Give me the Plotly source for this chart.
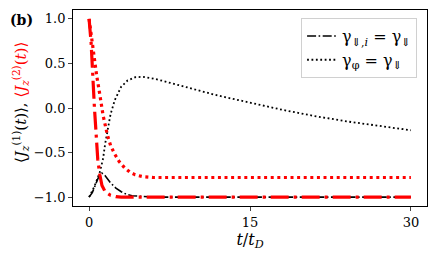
import plotly.graph_objects as go

# Black dash-dot: <J_z^(1)(t)>, gamma_{⇓,i} = gamma_⇓
t_b_dd = [0, 0.3, 0.6, 0.9, 1.2, 1.5, 2.0, 2.5, 3.0, 3.5, 4.0, 5.0, 6.0, 10, 20, 30]
v_b_dd = [-1.0, -0.95, -0.86, -0.77, -0.73, -0.76, -0.84, -0.90, -0.94, -0.97, -0.985, -0.995, -1.0, -1.0, -1.0, -1.0]

# Black dotted: <J_z^(1)(t)>, gamma_phi = gamma_⇓
t_b_dot = [0, 0.5, 1.0, 1.3, 1.5, 1.7, 2.0, 2.4, 3.0, 3.6, 4.3, 5.0, 6.0, 7.0, 8.5, 10, 12, 15, 18, 21, 24, 27, 30]
v_b_dot = [-1.0, -0.88, -0.72, -0.57, -0.40, -0.25, -0.07, 0.09, 0.24, 0.31, 0.345, 0.35, 0.33, 0.30, 0.25, 0.20, 0.14, 0.06, -0.02, -0.09, -0.15, -0.20, -0.25]

# Red dash-dot: <J_z^(2)(t)>, gamma_{⇓,i} = gamma_⇓
t_r_dd = [0, 0.19, 0.5, 0.81, 1.0, 1.2, 1.5, 2.0, 2.5, 3.0, 10, 20, 30]
v_r_dd = [1.0, 0.73, 0.0, -0.58, -0.75, -0.87, -0.94, -0.98, -0.995, -1.0, -1.0, -1.0, -1.0]

# Red dotted: <J_z^(2)(t)>, gamma_phi = gamma_⇓
t_r_dot = [0, 0.2, 0.4, 0.7, 1.0, 1.3, 1.7, 2.0, 2.4, 2.8, 3.3, 3.8, 4.3, 5.0, 6.0, 8, 30]
v_r_dot = [1.0, 0.80, 0.61, 0.37, 0.15, -0.08, -0.30, -0.42, -0.52, -0.60, -0.67, -0.72, -0.75, -0.77, -0.78, -0.78, -0.78]

x_ticks = [0, 15, 30]
y_ticks = [-1.0, -0.5, 0.0, 0.5, 1.0]
y_ticklabels = ["−1.0", "−0.5", "0.0", "0.5", "1.0"]

FONT = "DejaVu Serif, Liberation Serif, serif"

fig = go.Figure()
fig.add_trace(go.Scatter(x=t_b_dd, y=v_b_dd, mode="lines",
                         line=dict(color="black", width=1.6, dash="9px,2.5px,1.6px,2.5px"),
                         name="γ<sub>⇓,<i>i</i></sub> = γ<sub>⇓</sub>"))
fig.add_trace(go.Scatter(x=t_b_dot, y=v_b_dot, mode="lines",
                         line=dict(color="black", width=1.8, dash="1.8px,2.6px"),
                         name="γ<sub>φ</sub> = γ<sub>⇓</sub>"))
fig.add_trace(go.Scatter(x=t_r_dd, y=v_r_dd, mode="lines",
                         line=dict(color="red", width=3.2, dash="18px,5px,3px,5px"),
                         showlegend=False))
fig.add_trace(go.Scatter(x=t_r_dot, y=v_r_dot, mode="lines",
                         line=dict(color="red", width=3.2, dash="3px,3.6px"),
                         showlegend=False))

fig.update_layout(
    width=436, height=257,
    margin=dict(l=73, r=9, t=10, b=51, autoexpand=False),
    paper_bgcolor="white", plot_bgcolor="white",
    font=dict(family=FONT, size=13, color="black"),
    showlegend=True,
    legend=dict(x=0.972, y=0.959, xanchor="right", yanchor="top",
                bgcolor="rgba(255,255,255,0.8)", bordercolor="#d0d0d0", borderwidth=1,
                font=dict(family=FONT, size=16), tracegroupgap=0, itemwidth=30),
    xaxis=dict(range=[-1.5, 31.5], tickvals=x_ticks, ticks="outside", ticklen=4,
               tickwidth=0.8, showline=True, mirror=True, linecolor="black", linewidth=0.9,
               showgrid=False, zeroline=False, automargin=False,
               title=dict(text="<i>t</i>/<i>t</i><sub><i>D</i></sub>", font=dict(size=16), standoff=0)),
    yaxis=dict(range=[-1.1, 1.1], tickvals=y_ticks, ticktext=y_ticklabels, ticks="outside",
               ticklen=4, tickwidth=0.8, showline=True, mirror=True, linecolor="black",
               linewidth=0.9, showgrid=False, zeroline=False, automargin=False),
    annotations=[
        dict(text="<b>(b)</b>", xref="paper", yref="paper", x=-0.185, y=0.95,
             xanchor="left", yanchor="middle", showarrow=False, font=dict(size=14)),
        dict(text="⟨<i>J</i><sub><i>z</i></sub><sup>(1)</sup>(<i>t</i>)⟩, "
                  "<span style='color:red'>⟨<i>J</i><sub><i>z</i></sub><sup>(2)</sup>(<i>t</i>)⟩</span>",
             xref="paper", yref="paper", x=-0.15, y=0.53, xanchor="center", yanchor="middle",
             textangle=-90, showarrow=False, font=dict(size=15)),
    ],
)

fig.write_html("out.html", config={"displayModeBar": False},
               post_script="document.body.style.margin='0';document.body.style.padding='0';")
